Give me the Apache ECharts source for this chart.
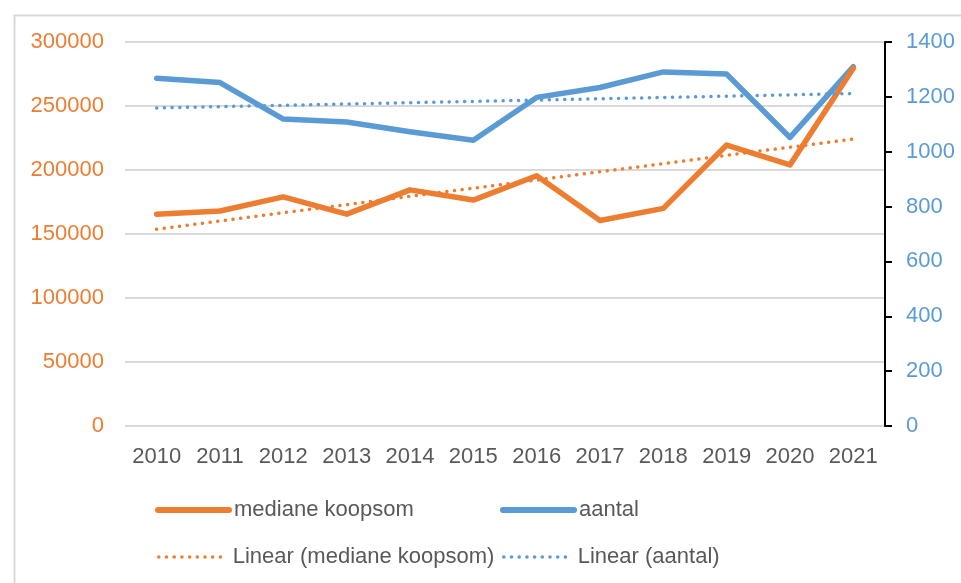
<!DOCTYPE html>
<html>
<head>
<meta charset="utf-8">
<script src="https://cdn.jsdelivr.net/npm/echarts@6/dist/echarts.min.js"></script>
<style>
html,body{margin:0;padding:0;background:#fff;}
#chart{width:961px;height:583px;}
</style>
</head>
<body>
<div id="chart"></div>
<script>
const years = ['2010','2011','2012','2013','2014','2015','2016','2017','2018','2019','2020','2021'];
const medianeKoopsom = [165500, 168000, 179000, 165500, 184500, 176500, 195500, 160500, 170000, 219500, 204000, 279500];
const aantal = [1268, 1252, 1119, 1108, 1073, 1042, 1198, 1234, 1291, 1283, 1052, 1310];
const nameKoop = 'mediane koopsom';
const nameAantal = 'aantal';
const nameLinKoop = 'Linear (mediane koopsom)';
const nameLinAantal = 'Linear (aantal)';

// least-squares linear trend, as the spreadsheet's trendline does
function linearTrend(vals) {
  const n = vals.length;
  let sx = 0, sy = 0, sxx = 0, sxy = 0;
  vals.forEach((v, i) => { sx += i; sy += v; sxx += i * i; sxy += i * v; });
  const b = (n * sxy - sx * sy) / (n * sxx - sx * sx);
  const a = (sy - b * sx) / n;
  return vals.map((v, i) => a + b * i);
}

const ORANGE = '#ED7D31';
const BLUE = '#5B9BD5';
const FONT = 'Liberation Sans';
const dotted = [0.1, 7.6];
const legendText = { fontFamily: FONT, fontSize: 22, color: '#595959', padding: [0, 0, 0, 0] };

const chart = echarts.init(document.getElementById('chart'));
chart.setOption({
  animation: false,
  backgroundColor: '#ffffff',
  textStyle: { fontFamily: FONT },
  graphic: [{
    type: 'rect', left: 12, top: 13, silent: true,
    shape: { x: 0, y: 0, width: 980, height: 600 },
    style: { fill: 'none', stroke: '#d9d9d9', lineWidth: 2 }
  }],
  grid: { left: 125, right: 76, top: 42, bottom: 157, containLabel: false },
  legend: [
    { data: [nameKoop], left: 155, top: 499, padding: 0, itemWidth: 71, itemHeight: 14,
      textStyle: legendText,
      lineStyle: { width: 6, cap: 'round' }, itemStyle: { opacity: 0 } },
    { data: [nameAantal], left: 500, top: 499, padding: 0, itemWidth: 71, itemHeight: 14,
      textStyle: legendText,
      lineStyle: { width: 6, cap: 'round' }, itemStyle: { opacity: 0 } },
    { data: [nameLinKoop], left: 157, top: 546, padding: 0, itemWidth: 69, itemHeight: 14,
      textStyle: legendText,
      lineStyle: { width: 3.5, type: dotted, cap: 'round' }, itemStyle: { opacity: 0 } },
    { data: [nameLinAantal], left: 502, top: 546, padding: 0, itemWidth: 69, itemHeight: 14,
      textStyle: legendText,
      lineStyle: { width: 3.5, type: dotted, cap: 'round' }, itemStyle: { opacity: 0 } }
  ],
  xAxis: {
    type: 'category', data: years, boundaryGap: true,
    axisLine: { show: false }, axisTick: { show: false },
    axisLabel: { margin: 20, fontSize: 22, color: '#595959', fontFamily: FONT, interval: 0 },
    splitLine: { show: false }
  },
  yAxis: [{
    type: 'value', min: 0, max: 300000, interval: 50000, position: 'left',
    axisLine: { show: false }, axisTick: { show: false },
    axisLabel: { margin: 21, fontSize: 22, color: ORANGE, fontFamily: FONT,
      formatter: v => String(v) },
    splitLine: { show: true, lineStyle: { color: '#d9d9d9', width: 2 } }
  }, {
    type: 'value', min: 0, max: 1400, interval: 200, position: 'right',
    axisLine: { show: true, lineStyle: { color: '#000000', width: 2 } },
    axisTick: { show: true, inside: false, length: 7, lineStyle: { color: '#000000', width: 2 } },
    axisLabel: { margin: 21, fontSize: 22, color: BLUE, fontFamily: FONT,
      formatter: v => String(v) },
    splitLine: { show: false }
  }],
  series: [{
    name: nameAantal, type: 'line', yAxisIndex: 1, data: aantal,
    symbol: 'none', color: BLUE, z: 2,
    lineStyle: { width: 5.5, color: BLUE, cap: 'round', join: 'round' }
  }, {
    name: nameKoop, type: 'line', yAxisIndex: 0, data: medianeKoopsom,
    symbol: 'none', color: ORANGE, z: 3,
    lineStyle: { width: 5.5, color: ORANGE, cap: 'round', join: 'round' }
  }, {
    name: nameLinKoop, type: 'line', yAxisIndex: 0, data: linearTrend(medianeKoopsom),
    symbol: 'none', color: ORANGE, z: 4,
    lineStyle: { width: 3.5, color: ORANGE, type: dotted, cap: 'round' }
  }, {
    name: nameLinAantal, type: 'line', yAxisIndex: 1, data: linearTrend(aantal),
    symbol: 'none', color: BLUE, z: 4,
    lineStyle: { width: 3.5, color: BLUE, type: dotted, cap: 'round' }
  }]
});
</script>
</body>
</html>
